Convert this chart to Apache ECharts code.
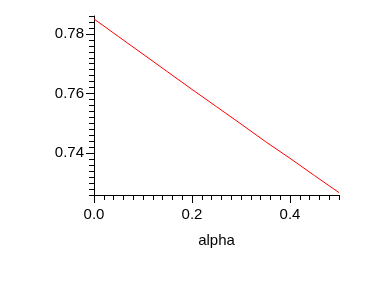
<!DOCTYPE html>
<html>
<head>
<meta charset="utf-8">
<script src="https://cdn.jsdelivr.net/npm/echarts@6/dist/echarts.min.js"></script>
<style>html,body{margin:0;padding:0;background:#fff}#c{width:382px;height:282px}</style>
</head>
<body>
<div id="c"></div>
<script>
var alphaValues = [0, 0.05, 0.1, 0.15, 0.2, 0.25, 0.3, 0.35, 0.4, 0.45, 0.5];
var yValues = [0.7850, 0.7791, 0.7732, 0.7673, 0.7614, 0.7556, 0.7498, 0.7439, 0.7383, 0.7325, 0.7268];
var xTickLabels = [0, 0.2, 0.4];
var yTickLabels = [0.74, 0.76, 0.78];
var xMin = 0, xMax = 0.5, xMinorStep = 0.02;
var yMin = 0.726, yMax = 0.786, yMinorStep = 0.002;

function steps(a, b, s) {
  var out = [], n = Math.round((b - a) / s);
  for (var i = 0; i <= n; i++) out.push(+(a + i * s).toFixed(6));
  return out;
}
var xMinor = steps(xMin, xMax, xMinorStep);
var yMinor = steps(yMin, yMax, yMinorStep);

var font = 'Liberation Sans, Arial, sans-serif';
var chart = echarts.init(document.getElementById('c'), null, {renderer: 'canvas'});
chart.setOption({
  animation: false,
  backgroundColor: '#fff',
  grid: {left: 94, top: 16, right: 43, bottom: 87, containLabel: false},
  xAxis: [{
    type: 'value', min: xMin, max: xMax, position: 'bottom',
    name: 'alpha', nameLocation: 'middle', nameGap: 38,
    nameTextStyle: {color: '#000', fontSize: 15, fontFamily: font},
    axisLine: {show: true, onZero: false, lineStyle: {color: '#000', width: 1}},
    axisTick: {show: true, length: 8, customValues: xTickLabels, lineStyle: {color: '#000'}},
    axisLabel: {customValues: xTickLabels, margin: 12, color: '#000', fontSize: 15, fontFamily: font,
      formatter: function (v) { return v.toFixed(1); }},
    splitLine: {show: false}
  }, {
    type: 'value', min: xMin, max: xMax, position: 'bottom',
    axisLine: {show: false},
    axisTick: {show: true, length: 5, customValues: xMinor, lineStyle: {color: '#000'}},
    axisLabel: {show: false},
    splitLine: {show: false}
  }],
  yAxis: [{
    type: 'value', min: yMin, max: yMax, position: 'left',
    axisLine: {show: true, onZero: false, lineStyle: {color: '#000', width: 1}},
    axisTick: {show: true, length: 8, customValues: yTickLabels, lineStyle: {color: '#000'}},
    axisLabel: {customValues: yTickLabels, margin: 10, color: '#000', fontSize: 15, fontFamily: font,
      formatter: function (v) { return v.toFixed(2); }},
    splitLine: {show: false}
  }, {
    type: 'value', min: yMin, max: yMax, position: 'left', offset: 0,
    axisLine: {show: false},
    axisTick: {show: true, length: 5, customValues: yMinor, lineStyle: {color: '#000'}},
    axisLabel: {show: false},
    splitLine: {show: false}
  }],
  series: [{
    type: 'line',
    data: alphaValues.map(function (a, i) { return [a, yValues[i]]; }),
    showSymbol: false,
    lineStyle: {color: '#ff0000', width: 1},
    smooth: false
  }]
});
</script>
</body>
</html>
